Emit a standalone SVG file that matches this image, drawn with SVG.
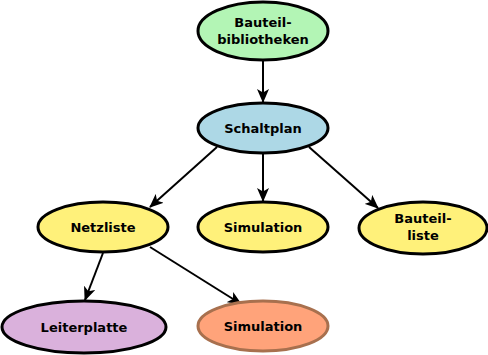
<svg xmlns="http://www.w3.org/2000/svg" width="488" height="355" viewBox="0 0 488 355">
<style>
.n{stroke:#000;stroke-width:3}
.t{font-family:"DejaVu Sans",sans-serif;font-weight:bold;font-size:13px;text-anchor:middle;fill:#000}
.e{stroke:#000;stroke-width:2;fill:none}
</style>
<defs>
<marker id="a" viewBox="0 0 14 12" refX="13" refY="6" markerWidth="14" markerHeight="12" markerUnits="userSpaceOnUse" orient="auto">
<path d="M0,0 L14,6 L0,12 L3.5,6 Z" fill="#000"/>
</marker>
</defs>
<g id="connectors">
<line class="e" x1="263" y1="61" x2="263" y2="102" marker-end="url(#a)"/>
<line class="e" x1="217" y1="147" x2="150" y2="207" marker-end="url(#a)"/>
<line class="e" x1="263" y1="154" x2="263" y2="201" marker-end="url(#a)"/>
<line class="e" x1="309" y1="147" x2="378" y2="208" marker-end="url(#a)"/>
<line class="e" x1="103" y1="253" x2="85" y2="300" marker-end="url(#a)"/>
<line class="e" x1="150" y1="247" x2="241" y2="304" marker-end="url(#a)"/>
</g>
<g id="bauteilbibliotheken">
<ellipse class="n" cx="263" cy="31" rx="65" ry="29" fill="#b3f5b5"/>
<text class="t" x="263" y="27">Bauteil-</text>
<text class="t" x="263" y="44">bibliotheken</text>
</g>
<g id="schaltplan">
<ellipse class="n" cx="263" cy="128" rx="65" ry="25" fill="#add8e6"/>
<text class="t" x="263" y="133">Schaltplan</text>
</g>
<g id="netzliste">
<ellipse class="n" cx="103" cy="227" rx="65" ry="25" fill="#fff17a"/>
<text class="t" x="103" y="232">Netzliste</text>
</g>
<g id="simulation1">
<ellipse class="n" cx="263" cy="227" rx="65" ry="25" fill="#fff17a"/>
<text class="t" x="263" y="232">Simulation</text>
</g>
<g id="bauteilliste">
<ellipse class="n" cx="423" cy="228" rx="64" ry="26" fill="#fff17a"/>
<text class="t" x="423" y="223">Bauteil-</text>
<text class="t" x="423" y="240">liste</text>
</g>
<g id="leiterplatte">
<ellipse class="n" cx="84" cy="327" rx="82" ry="26" fill="#dab1dc"/>
<text class="t" x="84" y="332">Leiterplatte</text>
</g>
<g id="simulation2">
<ellipse cx="263" cy="326" rx="65" ry="25" fill="#ffa37a" stroke="#a8704e" stroke-width="3"/>
<text class="t" x="263" y="331">Simulation</text>
</g>
</svg>
